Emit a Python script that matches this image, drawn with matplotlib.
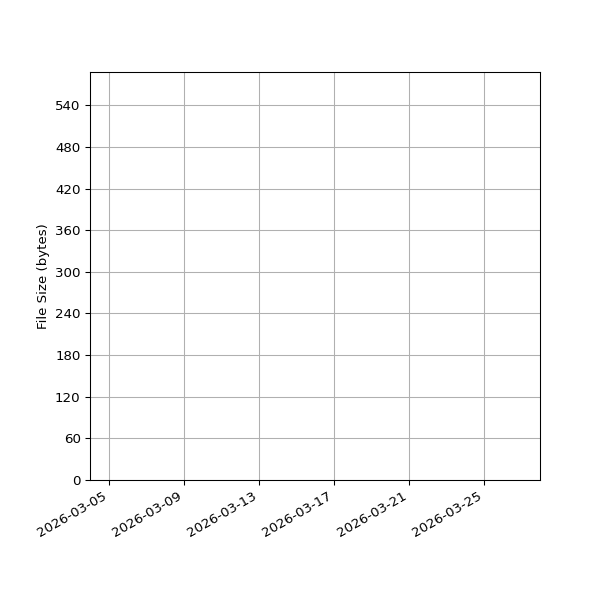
import matplotlib
matplotlib.use("Agg")
import matplotlib.pyplot as plt
import matplotlib.dates as mdates
import numpy as np

# visible date window and size range (the chart holds no data points)
date_range = np.array(["2026-03-04 00:00", "2026-03-28 00:00"], dtype="datetime64[m]")
size_range = [0, 588]

fig, ax = plt.subplots(figsize=(6.25, 6.25), dpi=96)
fig.subplots_adjust(left=0.15)

ax.set_xlim(date_range[0], date_range[1])
ax.set_ylim(size_range[0], size_range[1])
ax.xaxis.set_major_locator(mdates.DayLocator(bymonthday=[5, 9, 13, 17, 21, 25]))
ax.xaxis.set_major_formatter(mdates.DateFormatter("%Y-%m-%d"))
ax.set_yticks(np.arange(0, 541, 60))

ax.set_ylabel("File Size (bytes)")
ax.grid(True)
fig.autofmt_xdate()

fig.savefig("out.png")
